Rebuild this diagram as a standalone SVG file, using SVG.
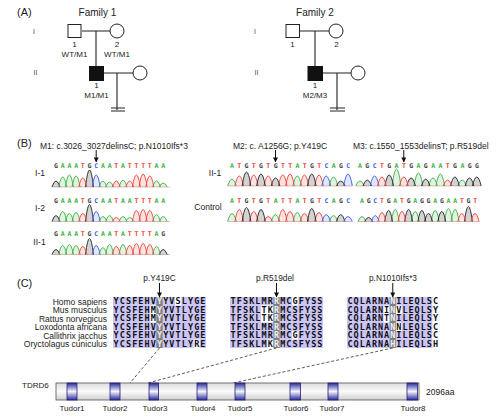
<svg xmlns="http://www.w3.org/2000/svg" width="501" height="420" viewBox="0 0 501 420">
<style>
.t{font-family:"Liberation Sans",Arial,sans-serif;fill:#222}
.gen{font-family:"Liberation Sans",Arial,sans-serif;fill:#444;font-size:7px;text-anchor:middle}
.lbl{font-size:8px;text-anchor:middle}
.ln{stroke:#222;stroke-width:1.1;fill:none}
.sq{fill:#fff;stroke:#222;stroke-width:1}
.aff{fill:#111;stroke:#111;stroke-width:1}
.seq{font-family:"DejaVu Sans Mono",monospace;font-weight:bold;font-size:6.5px}
.a{fill:#3cb043}.c{fill:#3a5ee8}.g{fill:#444}.tt{fill:#e8443a}
.pk{vector-effect:non-scaling-stroke;stroke-width:0.9;stroke-linejoin:round}
.pa{stroke:#3cb043;fill:#3cb043;fill-opacity:0.15}
.pc{stroke:#3a5ee8;fill:#3a5ee8;fill-opacity:0.15}
.pg{stroke:#222;fill:#222;fill-opacity:0.2}
.pt{stroke:#e8443a;fill:#e8443a;fill-opacity:0.15}
.bl{stroke:#e0a0a0;stroke-width:0.7}
.aln{font-family:"DejaVu Sans Mono",monospace;font-weight:bold;font-size:8.5px;fill:#111}
.l1{letter-spacing:1.083px}.l3{letter-spacing:0.983px}
.hi{fill:#eee}
.wc{fill:#fff}
.gc{fill:#7f7f7f}
.arr{stroke:#111;stroke-width:1;marker-end:url(#ah)}
.dash{stroke:#333;stroke-width:0.8;stroke-dasharray:3,2;fill:none}
.tud{fill:url(#tg);stroke:#22227a;stroke-width:0.8}
</style>
<defs>
<marker id="ah" viewBox="0 0 6 6" refX="5.5" refY="3" markerWidth="5" markerHeight="5" orient="auto"><path d="M0,0L6,3L0,6z" fill="#111"/></marker>
<linearGradient id="bg" x1="0" y1="0" x2="0" y2="1"><stop offset="0" stop-color="#dcdcdc"/><stop offset="0.5" stop-color="#fbfbfb"/><stop offset="1" stop-color="#cfcfcf"/></linearGradient>
<linearGradient id="tg" x1="0" y1="0" x2="0" y2="1"><stop offset="0" stop-color="#2a2a9a"/><stop offset="0.5" stop-color="#f4f4ff"/><stop offset="1" stop-color="#2a2a9a"/></linearGradient>
</defs>
<rect width="501" height="420" fill="#fff"/>

<!-- Panel A -->
<text class="t" x="17" y="16" font-size="11">(A)</text>
<text class="t" x="97.5" y="16" font-size="10" text-anchor="middle">Family 1</text>
<text class="t" x="315" y="16" font-size="10" text-anchor="middle">Family 2</text>
<text class="gen" x="34" y="34">I</text>
<text class="gen" x="35.5" y="75">II</text>
<text class="gen" x="255" y="34">I</text>
<text class="gen" x="256.5" y="75">II</text>

<g id="connectors">
<path class="ln" d="M82,31H110M96,31V66M104,73H133M117,73V110M111,108H125M111,111H125"/>
<path class="ln" d="M300,31H329M315,31V66M323,73H351M337,73V110M330,108H345M330,111H345"/>
</g>

<g id="f1-I-1"><rect class="sq" x="68" y="24.5" width="13" height="13"/><text class="t lbl" x="74.5" y="47">1</text><text class="t lbl" x="74.5" y="57">WT/M1</text></g>
<g id="f1-I-2"><circle class="sq" cx="117" cy="31" r="7"/><text class="t lbl" x="117" y="47">2</text><text class="t lbl" x="117" y="57">WT/M1</text></g>
<g id="f1-II-1"><rect class="aff" x="89.5" y="66.5" width="14" height="14"/><text class="t lbl" x="96.5" y="88">1</text><text class="t lbl" x="96.5" y="98">M1/M1</text></g>
<g id="f1-II-spouse"><circle class="sq" cx="140" cy="73" r="7"/></g>
<g id="f2-I-1"><rect class="sq" x="286" y="24.5" width="13.5" height="13"/><text class="t lbl" x="292.5" y="47">1</text></g>
<g id="f2-I-2"><circle class="sq" cx="336" cy="31" r="7"/><text class="t lbl" x="336.5" y="47">2</text></g>
<g id="f2-II-1"><rect class="aff" x="308" y="66.5" width="14.5" height="14"/><text class="t lbl" x="315" y="88">1</text><text class="t lbl" x="315" y="98">M2/M3</text></g>
<g id="f2-II-spouse"><circle class="sq" cx="358" cy="73" r="7"/></g>

<!-- Panel B -->
<text class="t" x="17" y="146.5" font-size="11">(B)</text>
<text class="t" x="40" y="148.5" font-size="8.5">M1: c.3026_3027delinsC; p.N1010Ifs*3</text>
<text class="t" x="233" y="148.5" font-size="8.5">M2: c. A1256G; p.Y419C</text>
<text class="t" x="353" y="148.5" font-size="8.5">M3: c.1550_1553delinsT; p.R519del</text>
<line class="arr" x1="96.2" y1="150" x2="96.2" y2="162"/>
<line class="arr" x1="275.5" y1="150" x2="275.5" y2="162"/>
<line class="arr" x1="403.8" y1="150" x2="403.8" y2="162"/>

<text class="t" x="40" y="176" font-size="8.5" text-anchor="middle">I-1</text>
<text class="t" x="40" y="211" font-size="8.5" text-anchor="middle">I-2</text>
<text class="t" x="39.5" y="245" font-size="8.5" text-anchor="middle">II-1</text>
<text class="t" x="215" y="176" font-size="8.5" text-anchor="middle">II-1</text>
<text class="t" x="208" y="209.5" font-size="8.5" text-anchor="middle">Control</text>

<!-- sequence letters -->
<text class="seq" x="54.04" y="167.5" style="letter-spacing:2.787px"><tspan class="g">G</tspan><tspan class="a">AAA</tspan><tspan class="tt">T</tspan><tspan class="g">G</tspan><tspan class="c">C</tspan><tspan class="a">AA</tspan><tspan class="tt">T</tspan><tspan class="a">A</tspan><tspan class="tt">TTTT</tspan><tspan class="a">AA</tspan></text>
<text class="seq" x="54.04" y="202.5" style="letter-spacing:2.787px"><tspan class="g">G</tspan><tspan class="a">AAA</tspan><tspan class="tt">T</tspan><tspan class="g">G</tspan><tspan class="c">C</tspan><tspan class="a">AA</tspan><tspan class="tt">T</tspan><tspan class="a">AA</tspan><tspan class="tt">TTT</tspan><tspan class="a">AA</tspan></text>
<text class="seq" x="54.04" y="236" style="letter-spacing:2.787px"><tspan class="g">G</tspan><tspan class="a">AAA</tspan><tspan class="tt">T</tspan><tspan class="g">G</tspan><tspan class="c">C</tspan><tspan class="a">AA</tspan><tspan class="tt">T</tspan><tspan class="a">A</tspan><tspan class="tt">TTTT</tspan><tspan class="a">A</tspan><tspan class="g">G</tspan></text>
<text class="seq" x="230.04" y="167.5" style="letter-spacing:3.337px"><tspan class="a">A</tspan><tspan class="tt">T</tspan><tspan class="g">G</tspan><tspan class="tt">T</tspan><tspan class="g">G</tspan><tspan class="tt">T</tspan><tspan class="g">G</tspan><tspan class="tt">TT</tspan><tspan class="a">A</tspan><tspan class="tt">T</tspan><tspan class="g">G</tspan><tspan class="tt">T</tspan><tspan class="c">C</tspan><tspan class="a">A</tspan><tspan class="g">G</tspan><tspan class="c">C</tspan></text>
<text class="seq" x="230.04" y="202.5" style="letter-spacing:3.337px"><tspan class="a">A</tspan><tspan class="tt">T</tspan><tspan class="g">G</tspan><tspan class="tt">T</tspan><tspan class="g">G</tspan><tspan class="tt">T</tspan><tspan class="a">A</tspan><tspan class="tt">TT</tspan><tspan class="a">A</tspan><tspan class="tt">T</tspan><tspan class="g">G</tspan><tspan class="tt">T</tspan><tspan class="c">C</tspan><tspan class="a">A</tspan><tspan class="g">G</tspan><tspan class="c">C</tspan></text>
<text class="seq" x="358.04" y="167.5" style="letter-spacing:3.387px"><tspan class="a">A</tspan><tspan class="g">G</tspan><tspan class="c">C</tspan><tspan class="tt">T</tspan><tspan class="g">G</tspan><tspan class="a">A</tspan><tspan class="tt">T</tspan><tspan class="g">G</tspan><tspan class="a">A</tspan><tspan class="g">G</tspan><tspan class="a">AA</tspan><tspan class="tt">T</tspan><tspan class="g">G</tspan><tspan class="a">A</tspan><tspan class="g">GG</tspan></text>
<text class="seq" x="360.04" y="202.5" style="letter-spacing:2.737px"><tspan class="a">A</tspan><tspan class="g">G</tspan><tspan class="c">C</tspan><tspan class="tt">T</tspan><tspan class="g">G</tspan><tspan class="a">A</tspan><tspan class="tt">T</tspan><tspan class="g">G</tspan><tspan class="a">A</tspan><tspan class="g">GG</tspan><tspan class="a">A</tspan><tspan class="g">G</tspan><tspan class="a">AA</tspan><tspan class="tt">T</tspan><tspan class="g">G</tspan><tspan class="tt">T</tspan></text>

<!-- chromatogram baselines -->
<path class="bl" d="M52,187H170M52,221.5H170M52,254.5H170M228,186H352M228,221.5H352M356,186H481M358,221.5H479"/>

<!-- M1 I-1 -->
<g transform="translate(56,187) scale(6.7,1)">
<path class="pk pg" d="M-0.6,0Q0,-12 0.6,0M4.4,0Q5,-34 5.6,0"/>
<path class="pk pa" d="M0.4,0Q1,-20 1.6,0M1.4,0Q2,-24 2.6,0M2.4,0Q3,-22 3.6,0M6.4,0Q7,-12 7.6,0M7.4,0Q8,-10 8.6,0M9.4,0Q10,-14 10.6,0M14.4,0Q15,-12 15.6,0M15.4,0Q16,-8 16.6,0"/>
<path class="pk pt" d="M3.4,0Q4,-18 4.6,0M8.4,0Q9,-12 9.6,0M10.4,0Q11,-12 11.6,0M11.4,0Q12,-24 12.6,0M12.4,0Q13,-26 13.6,0M13.4,0Q14,-22 14.6,0"/>
<path class="pk pc" d="M5.4,0Q6,-24 6.6,0"/>
</g>
<!-- M1 I-2 -->
<g transform="translate(56,221.5) scale(6.7,1)">
<path class="pk pg" d="M-0.6,0Q0,-12 0.6,0M4.4,0Q5,-34 5.6,0"/>
<path class="pk pa" d="M0.4,0Q1,-20 1.6,0M1.4,0Q2,-16 2.6,0M2.4,0Q3,-18 3.6,0M6.4,0Q7,-10 7.6,0M7.4,0Q8,-12 8.6,0M9.4,0Q10,-10 10.6,0M10.4,0Q11,-8 11.6,0M14.4,0Q15,-14 15.6,0M15.4,0Q16,-10 16.6,0"/>
<path class="pk pt" d="M3.4,0Q4,-16 4.6,0M8.4,0Q9,-8 9.6,0M11.4,0Q12,-22 12.6,0M12.4,0Q13,-24 13.6,0M13.4,0Q14,-22 14.6,0"/>
<path class="pk pc" d="M5.4,0Q6,-20 6.6,0"/>
</g>
<!-- M1 II-1 -->
<g transform="translate(56,254.5) scale(6.7,1)">
<path class="pk pg" d="M-0.6,0Q0,-10 0.6,0M4.4,0Q5,-32 5.6,0M15.4,0Q16,-10 16.6,0"/>
<path class="pk pa" d="M0.4,0Q1,-18 1.6,0M1.4,0Q2,-20 2.6,0M2.4,0Q3,-18 3.6,0M6.4,0Q7,-14 7.6,0M7.4,0Q8,-20 8.6,0M9.4,0Q10,-20 10.6,0M14.4,0Q15,-16 15.6,0"/>
<path class="pk pt" d="M3.4,0Q4,-16 4.6,0M8.4,0Q9,-16 9.6,0M10.4,0Q11,-18 11.6,0M11.4,0Q12,-22 12.6,0M12.4,0Q13,-22 13.6,0M13.4,0Q14,-20 14.6,0"/>
<path class="pk pc" d="M5.4,0Q6,-18 6.6,0"/>
</g>
<!-- M2 II-1 -->
<g transform="translate(232,186) scale(7.25,1)">
<path class="pk pa" d="M-0.6,0Q0,-14 0.6,0M8.4,0Q9,-20 9.6,0M13.4,0Q14,-18 14.6,0"/>
<path class="pk pt" d="M0.4,0Q1,-20 1.6,0M2.4,0Q3,-22 3.6,0M4.4,0Q5,-20 5.6,0M6.4,0Q7,-22 7.6,0M7.4,0Q8,-24 8.6,0M9.4,0Q10,-22 10.6,0M11.4,0Q12,-22 12.6,0"/>
<path class="pk pg" d="M1.4,0Q2,-28 2.6,0M3.4,0Q4,-24 4.6,0M5.4,0Q6,-16 6.6,0M10.4,0Q11,-24 11.6,0M14.4,0Q15,-10 15.6,0"/>
<path class="pk pc" d="M12.4,0Q13,-20 13.6,0M15.4,0Q16,-24 16.6,0"/>
</g>
<!-- M2 Control -->
<g transform="translate(232,221.5) scale(7.25,1)">
<path class="pk pa" d="M-0.6,0Q0,-16 0.6,0M5.4,0Q6,-14 6.6,0M8.4,0Q9,-18 9.6,0M13.4,0Q14,-12 14.6,0"/>
<path class="pk pt" d="M0.4,0Q1,-24 1.6,0M2.4,0Q3,-20 3.6,0M4.4,0Q5,-10 5.6,0M6.4,0Q7,-24 7.6,0M7.4,0Q8,-20 8.6,0M9.4,0Q10,-16 10.6,0M11.4,0Q12,-18 12.6,0"/>
<path class="pk pg" d="M1.4,0Q2,-28 2.6,0M3.4,0Q4,-24 4.6,0M10.4,0Q11,-26 11.6,0M14.4,0Q15,-14 15.6,0"/>
<path class="pk pc" d="M12.4,0Q13,-14 13.6,0M15.4,0Q16,-10 16.6,0"/>
</g>
<!-- M3 II-1 -->
<g transform="translate(360,186) scale(7.3,1)">
<path class="pk pa" d="M-0.6,0Q0,-10 0.6,0M4.4,0Q5,-34 5.6,0M7.4,0Q8,-26 8.6,0M9.4,0Q10,-16 10.6,0M10.4,0Q11,-24 11.6,0M13.4,0Q14,-12 14.6,0"/>
<path class="pk pg" d="M0.4,0Q1,-12 1.6,0M3.4,0Q4,-22 4.6,0M6.4,0Q7,-16 7.6,0M8.4,0Q9,-14 9.6,0M12.4,0Q13,-18 13.6,0M14.4,0Q15,-16 15.6,0M15.4,0Q16,-18 16.6,0"/>
<path class="pk pc" d="M1.4,0Q2,-20 2.6,0"/>
<path class="pk pt" d="M2.4,0Q3,-18 3.6,0M5.4,0Q6,-18 6.6,0M11.4,0Q12,-12 12.6,0"/>
</g>
<!-- M3 Control -->
<g transform="translate(362,221.5) scale(6.65,1)">
<path class="pk pa" d="M-0.6,0Q0,-10 0.6,0M4.4,0Q5,-24 5.6,0M7.4,0Q8,-20 8.6,0M10.4,0Q11,-22 11.6,0M12.4,0Q13,-26 13.6,0M13.4,0Q14,-24 14.6,0"/>
<path class="pk pg" d="M0.4,0Q1,-8 1.6,0M3.4,0Q4,-22 4.6,0M6.4,0Q7,-24 7.6,0M8.4,0Q9,-22 9.6,0M9.4,0Q10,-16 10.6,0M11.4,0Q12,-20 12.6,0M15.4,0Q16,-30 16.6,0"/>
<path class="pk pc" d="M1.4,0Q2,-12 2.6,0"/>
<path class="pk pt" d="M2.4,0Q3,-18 3.6,0M5.4,0Q6,-20 6.6,0M14.4,0Q15,-16 15.6,0M16.4,0Q17,-16 17.6,0"/>
</g>

<!-- Panel C -->
<text class="t" x="17" y="287" font-size="11">(C)</text>
<text class="t" x="159.5" y="281" font-size="8.3" text-anchor="middle">p.Y419C</text>
<text class="t" x="275" y="281" font-size="8.3" text-anchor="middle">p.R519del</text>
<text class="t" x="393" y="281" font-size="8.3" text-anchor="middle">p.N1010Ifs*3</text>
<line class="arr" x1="159.5" y1="283" x2="159.5" y2="297"/>
<line class="arr" x1="276.5" y1="283" x2="276.5" y2="297"/>
<line class="arr" x1="392.75" y1="283" x2="392.75" y2="297"/>

<g class="t" font-size="8.5" text-anchor="end">
<text x="107" y="304.5">Homo sapiens</text>
<text x="107" y="313">Mus musculus</text>
<text x="107" y="321.5">Rattus norvegicus</text>
<text x="107" y="330">Loxodonta africana</text>
<text x="107" y="338.5">Callithrix jacchus</text>
<text x="107" y="347">Oryctolagus cuniculus</text>
</g>

<!-- alignment backgrounds -->
<rect x="113" y="297" width="93" height="51" fill="#cbc6f7"/>
<rect x="230" y="297" width="93" height="51" fill="#cbc6f7"/>
<rect x="347" y="297" width="85.4" height="51" fill="#cbc6f7"/>
<rect class="wc" x="175" y="297" width="6.2" height="8.5"/>
<rect class="wc" x="150.2" y="305.5" width="6.2" height="17"/>
<rect class="wc" x="193.6" y="339.5" width="6.2" height="8.5"/>
<rect class="wc" x="292" y="297" width="6.2" height="8.5"/>
<rect class="wc" x="261" y="305.5" width="12.4" height="17"/>
<rect class="wc" x="292" y="331" width="6.2" height="8.5"/>
<rect class="wc" x="267.2" y="339.5" width="6.2" height="8.5"/>
<rect class="wc" x="383.6" y="305.5" width="6.1" height="17"/>
<rect class="wc" x="395.8" y="305.5" width="6.1" height="8.5"/>
<rect class="wc" x="395.8" y="322.5" width="6.1" height="8.5"/>
<rect class="gc" x="156.4" y="297" width="6.2" height="51"/>
<rect class="gc" x="273.4" y="297" width="6.2" height="51"/>
<rect class="gc" x="389.7" y="297" width="6.1" height="51"/>

<g class="aln l1">
<text x="113.54" y="304.4">YCSFEHV<tspan class="hi">Y</tspan>YVSLYGE</text>
<text x="113.54" y="312.9">YCSFEHM<tspan class="hi">Y</tspan>YVTLYGE</text>
<text x="113.54" y="321.4">YCSFEHM<tspan class="hi">Y</tspan>YVTLYGE</text>
<text x="113.54" y="329.9">YCSFEHV<tspan class="hi">Y</tspan>YVTLYGE</text>
<text x="113.54" y="338.4">YCSFEHV<tspan class="hi">Y</tspan>YVTLYGE</text>
<text x="113.54" y="346.9">YCSFEHV<tspan class="hi">Y</tspan>YVTLYRE</text>
<text x="230.54" y="304.4">TFSKLMR<tspan class="hi">R</tspan>MCGFYSS</text>
<text x="230.54" y="312.9">TFSKLTK<tspan class="hi">R</tspan>MCSFYSS</text>
<text x="230.54" y="321.4">TFSKLTK<tspan class="hi">R</tspan>MCSFYSS</text>
<text x="230.54" y="329.9">TFSKLMR<tspan class="hi">R</tspan>MCSFYSS</text>
<text x="230.54" y="338.4">TFSKLMR<tspan class="hi">R</tspan>MCGFYSS</text>
<text x="230.54" y="346.9">TFSKLMK<tspan class="hi">R</tspan>MCSFYSS</text>
</g>
<g class="aln l3">
<text x="347.49" y="304.4">CQLARNA<tspan class="hi">N</tspan>ILEQLSC</text>
<text x="347.49" y="312.9">CQLARNI<tspan class="hi">N</tspan>VLEQLSY</text>
<text x="347.49" y="321.4">CQLARNT<tspan class="hi">N</tspan>ILEQLSY</text>
<text x="347.49" y="329.9">CQLARNA<tspan class="hi">N</tspan>NLEQLSC</text>
<text x="347.49" y="338.4">CQLARNA<tspan class="hi">N</tspan>ILEQLSC</text>
<text x="347.49" y="346.9">CQLARNA<tspan class="hi">H</tspan>ILEQLSH</text>
</g>

<g id="mapping-lines">
<line class="dash" x1="159.5" y1="348" x2="130" y2="383"/>
<line class="dash" x1="276.5" y1="348" x2="148" y2="383"/>
<line class="dash" x1="392.75" y1="348" x2="233" y2="383"/>
</g>

<g id="protein">
<text class="t" x="22" y="388" font-size="8">TDRD6</text>
<rect x="56" y="383" width="363" height="17" fill="url(#bg)" stroke="#555" stroke-width="0.8"/>
<rect class="tud" x="67" y="383" width="10" height="17"/>
<rect class="tud" x="110" y="383" width="10" height="17"/>
<rect class="tud" x="149" y="383" width="9.5" height="17"/>
<rect class="tud" x="197" y="383" width="10" height="17"/>
<rect class="tud" x="235" y="383" width="10" height="17"/>
<rect class="tud" x="290" y="383" width="10.5" height="17"/>
<rect class="tud" x="328" y="383" width="10" height="17"/>
<rect class="tud" x="407" y="383" width="10.5" height="17"/>
<text class="t" x="426" y="395" font-size="8.5">2096aa</text>
<g class="t" font-size="8" text-anchor="middle">
<text x="72" y="411">Tudor1</text>
<text x="115" y="411">Tudor2</text>
<text x="155" y="411">Tudor3</text>
<text x="203" y="411">Tudor4</text>
<text x="240" y="411">Tudor5</text>
<text x="296" y="411">Tudor6</text>
<text x="332" y="411">Tudor7</text>
<text x="413" y="411">Tudor8</text>
</g>
</g>
</svg>
